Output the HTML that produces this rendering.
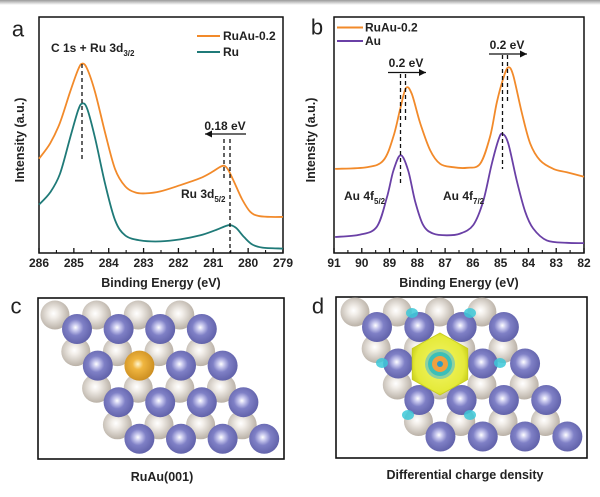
<!DOCTYPE html>
<html><head><meta charset="utf-8"><style>
html,body{margin:0;padding:0;background:#fff}
svg{display:block;font-family:"Liberation Sans",Arial,sans-serif}
.tk{font-size:12px;font-weight:bold;fill:#222}
.tt{font-size:12.5px;font-weight:bold;fill:#222}
.an{font-size:12px;font-weight:bold;fill:#222}
.lt{font-size:22px;fill:#222}
</style></head><body>
<svg id="fig" width="600" height="497" viewBox="0 0 600 497">
<defs>
<linearGradient id="topbar" x1="0" y1="0" x2="0" y2="1"><stop offset="0" stop-color="#9a9a9a"/><stop offset="1" stop-color="#fff"/></linearGradient>
<radialGradient id="gGrey" cx="0.45" cy="0.45" r="0.6"><stop offset="0" stop-color="#fff"/><stop offset="0.25" stop-color="#f2eee9"/><stop offset="1" stop-color="#b3aa9f"/></radialGradient>
<radialGradient id="gBlue" cx="0.45" cy="0.45" r="0.6"><stop offset="0" stop-color="#fff"/><stop offset="0.18" stop-color="#c9c9ee"/><stop offset="0.45" stop-color="#7f80c6"/><stop offset="1" stop-color="#5d5ea6"/></radialGradient>
<radialGradient id="gGold" cx="0.45" cy="0.45" r="0.6"><stop offset="0" stop-color="#fff6d0"/><stop offset="0.3" stop-color="#f0b640"/><stop offset="1" stop-color="#c88a1e"/></radialGradient>
<radialGradient id="gYel" cx="0.5" cy="0.5" r="0.55"><stop offset="0" stop-color="#f2f56a"/><stop offset="0.8" stop-color="#e5ea3a"/><stop offset="1" stop-color="#c9cf1c"/></radialGradient>
</defs>
<rect x="0" y="0" width="600" height="5" fill="url(#topbar)"/>
<g id="pa"></g>
<g id="pb"></g>
<g id="pc"></g>
<g id="pd"></g>
</svg>
<script>
// ---- Panel a data (Ru 3d / C 1s) ----
const aEnergy1 = [286,285.68,285.40,285.11,284.88,284.76,284.62,284.39,284.10,283.82,283.53,283.24,282.95,282.52,281.95,281.37,281.03,280.80,280.68,280.57,280.40,280.17,279.94,279.71,279.36,279.0];
const aRuAu = [94.3,109.7,130.1,160.8,183.2,189.4,184.3,160.8,119.9,84.1,66.8,60.6,59.6,61.6,67.8,74.9,81.1,86.2,87.2,83.1,70.9,53.5,41.2,37.1,36.1,36.1];
const aEnergy2 = [286,285.68,285.40,285.11,284.88,284.76,284.62,284.39,284.10,283.82,283.53,283.10,282.52,281.95,281.37,280.94,280.65,280.51,280.34,280.11,279.88,279.59,279.0];
const aRu = [48.4,60.6,79.0,114.8,142.4,149.5,144.4,114.8,68.8,33.0,17.7,12.6,11.6,13.6,17.7,22.8,26.9,27.9,24.9,15.7,8.5,5.4,4.4];
const aTicks = [286,285,284,283,282,281,280,279];
// ---- Panel b data (Au 4f) ----
const bEnergy1 = [90.96,89.82,89.22,88.86,88.62,88.41,88.20,87.90,87.54,87.18,86.71,86.22,85.74,85.38,85.14,84.91,84.73,84.55,84.24,83.94,83.58,83.10,82.62,82.0];
const bRuAu = [84.1,85.8,92.6,116.5,143.7,164.9,159.1,130.1,102.9,89.2,85.8,85.2,89.2,116.5,150.5,174.4,185.6,177.8,140.3,109.7,92.6,84.1,80.7,76.3];
const bEnergy2 = [90.96,90.06,89.46,89.10,88.86,88.60,88.33,88.08,87.79,87.43,86.94,86.46,85.99,85.63,85.32,85.08,84.94,84.73,84.42,84.12,83.83,83.34,82.62,82.0];
const bAu = [16.0,18.4,26.2,55.2,82.4,97.8,82.4,51.8,27.9,19.4,17.7,19.4,27.9,51.8,89.2,113.1,119.2,109.7,72.2,41.6,24.5,12.6,10.2,9.9];
const bTicks = [91,90,89,88,87,86,85,84,83,82];

const NS="http://www.w3.org/2000/svg";
function mk(parent,tag,attrs){const e=document.createElementNS(NS,tag);for(const k in attrs)e.setAttribute(k,attrs[k]);parent.appendChild(e);return e;}
function txt(parent,x,y,s,cls,anchor){const t=mk(parent,'text',{x:x,y:y,class:cls,'text-anchor':anchor||'middle','dominant-baseline':'central'});t.textContent=s;return t;}
function smooth(pts){let d='M'+pts[0][0].toFixed(1)+','+pts[0][1].toFixed(1);
 for(let i=0;i<pts.length-1;i++){const p0=pts[Math.max(i-1,0)],p1=pts[i],p2=pts[i+1],p3=pts[Math.min(i+2,pts.length-1)];
 const c1=[p1[0]+(p2[0]-p0[0])/6,p1[1]+(p2[1]-p0[1])/6],c2=[p2[0]-(p3[0]-p1[0])/6,p2[1]-(p3[1]-p1[1])/6];
 d+='C'+c1[0].toFixed(1)+','+c1[1].toFixed(1)+' '+c2[0].toFixed(1)+','+c2[1].toFixed(1)+' '+p2[0].toFixed(1)+','+p2[1].toFixed(1);}return d;}

function axesPanel(g,L,R,eMax,eMin,ticks){
 const T=17,B=253;
 const xs=e=>L+(eMax-e)/(eMax-eMin)*(R-L);
 const ys=v=>B-v;
 const box=mk(g,'rect',{x:L,y:T,width:R-L,height:B-T,fill:'none',stroke:'#111','stroke-width':1.5});
 
 
 ticks.forEach((t,i)=>{
  const x=xs(t);
  mk(g,'line',{x1:x,y1:B,x2:x,y2:B-5,stroke:'#111','stroke-width':1.3});
  if(i<ticks.length-1){const xm=xs(t-(ticks[0]>ticks[1]?1:-1)*0.5*Math.abs(ticks[0]-ticks[1]));mk(g,'line',{x1:xm,y1:B,x2:xm,y2:B-3,stroke:'#111','stroke-width':1.1});}
  const tl=txt(g,x,263,String(t),'tk');
  
  
 });
 return {xs,ys};
}
function series(g,xs,ys,E,V,color,name){
 const p=mk(g,'path',{d:smooth(E.map((e,i)=>[xs(e),ys(V[i])])),fill:'none',stroke:color,'stroke-width':1.8});
 
 
}
function dash(g,x,y1,y2){mk(g,'line',{x1:x,y1:y1,x2:x,y2:y2,stroke:'#111','stroke-width':1.3,'stroke-dasharray':'4,3'});}
function arrow(g,x1,x2,y){mk(g,'line',{x1:x1,y1:y,x2:x2,y2:y,stroke:'#111','stroke-width':1.3});
 const s=x2>x1?1:-1;mk(g,'polygon',{points:`${x2},${y} ${x2-7*s},${y-3.5} ${x2-7*s},${y+3.5}`,fill:'#111'});}

// Panel a
const ga=document.getElementById('pa');
const A=axesPanel(ga,39,283,286,279,aTicks);
series(ga,A.xs,A.ys,aEnergy2,aRu,'#1f7a78','series-ru');
series(ga,A.xs,A.ys,aEnergy1,aRuAu,'#f28a2a','series-ruau-a');
dash(ga,82,64,160);dash(ga,224,139,178);dash(ga,230,139,253);
arrow(ga,246,205,134);
txt(ga,225,126,'0.18 eV','an');
let t=mk(ga,'text',{x:51,y:52,class:'an'});t.innerHTML='C 1s + Ru 3d<tspan font-size="8" dy="4">3/2</tspan>';


t=mk(ga,'text',{x:181,y:198,class:'an'});t.innerHTML='Ru 3d<tspan font-size="8" dy="4">5/2</tspan>';


mk(ga,'line',{x1:197,y1:36,x2:220,y2:36,stroke:'#f28a2a','stroke-width':2});
txt(ga,223,36,'RuAu-0.2','an','start');
mk(ga,'line',{x1:197,y1:52,x2:220,y2:52,stroke:'#1f7a78','stroke-width':2});
txt(ga,223,52,'Ru','an','start');
txt(ga,18,29,'a','lt');
t=mk(ga,'text',{x:20,y:140,class:'tt','text-anchor':'middle','dominant-baseline':'central',transform:'rotate(-90 20 140)'});t.textContent='Intensity (a.u.)';
txt(ga,161,283,'Binding Energy (eV)','tt');

// Panel b
const gb=document.getElementById('pb');
const Bx=axesPanel(gb,334,584,91,82,bTicks);
series(gb,Bx.xs,Bx.ys,bEnergy2,bAu,'#6a40a6','series-au');
series(gb,Bx.xs,Bx.ys,bEnergy1,bRuAu,'#f28a2a','series-ruau-b');
dash(gb,400.5,74,186);dash(gb,405.5,74,120);
dash(gb,502.5,55,169);dash(gb,507.5,55,101);
arrow(gb,388,426,72.5);arrow(gb,489,527,54);
txt(gb,406,63,'0.2 eV','an');txt(gb,507,45,'0.2 eV','an');
t=mk(gb,'text',{x:344,y:200,class:'an'});t.innerHTML='Au 4f<tspan font-size="8" dy="4">5/2</tspan>';
t=mk(gb,'text',{x:443,y:200,class:'an'});t.innerHTML='Au 4f<tspan font-size="8" dy="4">7/2</tspan>';
mk(gb,'line',{x1:337,y1:27.5,x2:363,y2:27.5,stroke:'#f28a2a','stroke-width':2});
txt(gb,365,27.5,'RuAu-0.2','an','start');
mk(gb,'line',{x1:337,y1:41,x2:363,y2:41,stroke:'#6a40a6','stroke-width':2});
txt(gb,365,41,'Au','an','start');
txt(gb,317,27,'b','lt');
t=mk(gb,'text',{x:311,y:140,class:'tt','text-anchor':'middle','dominant-baseline':'central',transform:'rotate(-90 311 140)'});t.textContent='Intensity (a.u.)';
txt(gb,459,283,'Binding Energy (eV)','tt');

// Panels c & d: atom models
function lattice(g,gx,gy,bx,by,sp,dy,gold){
 for(let k=0;k<4;k++)for(let j=0;j<4;j++){
  const c=mk(g,'circle',{cx:gx+sp/2*k+sp*j,cy:gy+dy*k,r:14.5,fill:'url(#gGrey)'});
  
  }
 for(let k=0;k<4;k++)for(let j=0;j<4;j++){
  const isG=gold&&k===1&&j===1;
  const c=mk(g,'circle',{cx:bx+sp/2*k+sp*j,cy:by+dy*k,r:15,fill:isG?'url(#gGold)':'url(#gBlue)'});
  
  }
}
const gc=document.getElementById('pc');
mk(gc,'rect',{x:38,y:298,width:246,height:161,fill:'#fff',stroke:'#111','stroke-width':1.6});
lattice(gc,55,315,77,329,41.6,36.6,true);
txt(gc,16,306,'c','lt');
txt(gc,162,477,'RuAu(001)','tt');

const gd=document.getElementById('pd');
mk(gd,'rect',{x:336,y:297,width:251,height:161,fill:'#fff',stroke:'#111','stroke-width':1.6});
lattice(gd,355,312,377,327,42.3,36.5,false);
[[412,313],[470,313],[382,363],[500,363],[408,415],[470,415]].forEach(p=>{mk(gd,'ellipse',{cx:p[0],cy:p[1],rx:6,ry:5,fill:'#3cc8d8',opacity:0.85});});
const hx=440,hy=364,hr=32;let pts=[];for(let i=0;i<6;i++){const a=Math.PI/3*i-Math.PI/2;pts.push((hx+hr*Math.cos(a)).toFixed(1)+','+(hy+hr*0.97*Math.sin(a)).toFixed(1));}
const hex=mk(gd,'polygon',{points:pts.join(' '),fill:'url(#gYel)',stroke:'#c8ce20','stroke-width':1,'stroke-linejoin':'round'});


mk(gd,'circle',{cx:hx,cy:hy,r:15,fill:'#8ed0a0'});
mk(gd,'circle',{cx:hx,cy:hy,r:12,fill:'#3cbfb8'});
mk(gd,'circle',{cx:hx,cy:hy,r:8,fill:'#f0a040'});
mk(gd,'circle',{cx:hx,cy:hy,r:3,fill:'#2a9ac8'});
txt(gd,318,306,'d','lt');
txt(gd,465,475,'Differential charge density','tt');
</script>
</body></html>
